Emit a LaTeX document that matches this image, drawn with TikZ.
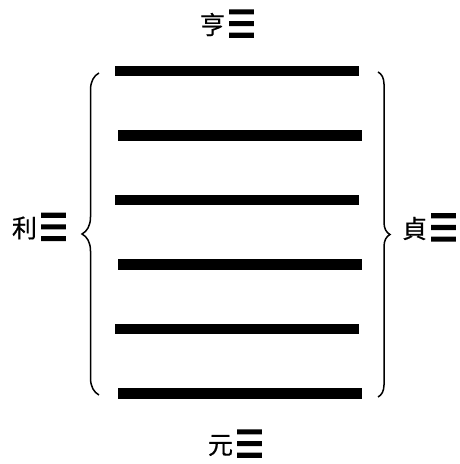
\documentclass[tikz,border=0pt]{standalone}
\usepackage{fontspec}
\usepackage{graphicx}
\newfontfamily\cjk[FakeBold=0.6]{Noto Sans CJK TC}
\newfontfamily\symb[FakeBold=4]{DejaVu Sans}
\usetikzlibrary{decorations.pathreplacing}
\tikzset{
  yao/.style={fill=black, inner sep=0pt, minimum width=244pt, minimum height=10.5pt},
  gualabel/.style={inner sep=0pt, font=\fontsize{25}{25}\selectfont},
  bracepath/.style={decorate, decoration={brace, amplitude=#1}, line width=1.5pt},
}
\newcommand{\guaname}[1]{{\cjk #1}\hspace{2pt}\raisebox{-3pt}[18pt][0pt]{\resizebox{29pt}{27pt}{\symb ☰}}}
\begin{document}
\begin{tikzpicture}[x=1pt, y=1pt]
  \useasboundingbox (0,0) rectangle (460,464);
  % six solid lines
  \node[yao] (yao6) at (237,393) {};
  \node[yao] (yao5) at (240,328.5) {};
  \node[yao] (yao4) at (237,264) {};
  \node[yao] (yao3) at (240,199.5) {};
  \node[yao] (yao2) at (237,135) {};
  \node[yao] (yao1) at (240,70.5) {};
  % braces
  \coordinate (lbot) at (99,69);
  \coordinate (ltop) at (99,391);
  \draw[bracepath=17] (lbot) -- (ltop);
  \coordinate (rtop) at (378,392);
  \coordinate (rbot) at (378,67);
  \draw[bracepath=12] (rtop) -- (rbot);
  % labels
  \node[gualabel] (heng) at (228,439.5) {\guaname{亨}};
  \node[gualabel] (li) at (40,236) {\guaname{利}};
  \node[gualabel] (zhen) at (430,235.5) {\guaname{貞}};
  \node[gualabel] (yuan) at (236,18.5) {\guaname{元}};
\end{tikzpicture}
\end{document}
